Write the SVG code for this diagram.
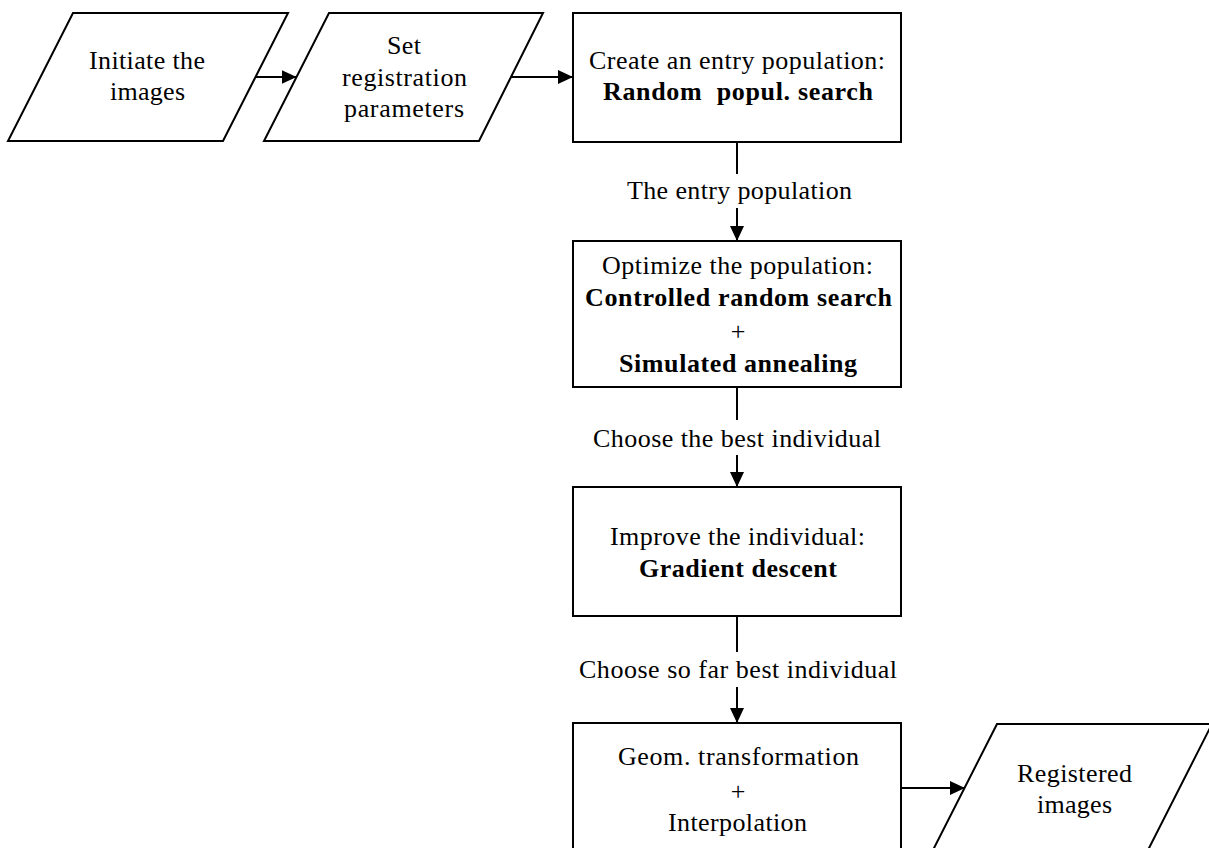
<svg xmlns="http://www.w3.org/2000/svg" width="1209" height="848" viewBox="0 0 1209 848">
  <style>
    .shape { fill: #ffffff; stroke: #000000; stroke-width: 2; }
    .conn { fill: none; stroke: #000000; stroke-width: 2; }
    .t { font-family: 'Liberation Serif', Tinos, 'Times New Roman', Times, serif; font-size: 26px; fill: #000000; text-anchor: middle; }
    .b { font-weight: bold; }
  </style>
  <defs>
    <marker id="arrow" markerUnits="userSpaceOnUse" markerWidth="16" markerHeight="15" refX="15" refY="7" orient="auto">
      <path d="M0,0 L15,7 L0,14 z" fill="#000000"/>
    </marker>
  </defs>
  <rect width="1209" height="848" fill="#ffffff"/>

  <g id="connectors">
    <line class="conn" x1="256" y1="77" x2="296.5" y2="77" marker-end="url(#arrow)"/>
    <line class="conn" x1="511" y1="77" x2="573" y2="77" marker-end="url(#arrow)"/>
    <line class="conn" x1="737" y1="142" x2="737" y2="174"/>
    <line class="conn" x1="737" y1="208" x2="737" y2="241" marker-end="url(#arrow)"/>
    <line class="conn" x1="737" y1="387" x2="737" y2="420"/>
    <line class="conn" x1="737" y1="455" x2="737" y2="487" marker-end="url(#arrow)"/>
    <line class="conn" x1="737" y1="616" x2="737" y2="652"/>
    <line class="conn" x1="737" y1="687" x2="737" y2="723" marker-end="url(#arrow)"/>
    <line class="conn" x1="901" y1="788" x2="965" y2="788" marker-end="url(#arrow)"/>
    <text class="t" font-family="Liberation Serif, serif" x="739.5" y="199" textLength="225">The entry population</text>
    <text class="t" font-family="Liberation Serif, serif" x="737" y="447" textLength="288">Choose the best individual</text>
    <text class="t" font-family="Liberation Serif, serif" x="738" y="678" textLength="318">Choose so far best individual</text>
  </g>

  <g id="initiate" font-family="Liberation Serif, serif">
    <polygon class="shape" points="73,13 288,13 223,141 8,141"/>
    <text class="t" x="147" y="69" textLength="116">Initiate the</text>
    <text class="t" x="147.5" y="100" textLength="75">images</text>
  </g>

  <g id="set-params">
    <polygon class="shape" points="329,13 543,13 479,141 264,141"/>
    <text class="t" x="404" y="54" textLength="34">Set</text>
    <text class="t" x="404.5" y="86" textLength="125">registration</text>
    <text class="t" x="404" y="117" textLength="120">parameters</text>
  </g>

  <g id="create-population">
    <rect class="shape" x="573" y="13" width="328" height="129"/>
    <text class="t" x="737" y="69" textLength="296">Create an entry population:</text>
    <text class="t b" x="738" y="100" textLength="270" xml:space="preserve">Random  popul. search</text>
  </g>

  <g id="optimize-population">
    <rect class="shape" x="573" y="241" width="328" height="146"/>
    <text class="t" x="737.5" y="274" textLength="271">Optimize the population:</text>
    <text class="t b" x="738.5" y="306" textLength="307">Controlled random search</text>
    <text class="t" x="738" y="340">+</text>
    <text class="t b" x="738" y="372" textLength="238">Simulated annealing</text>
  </g>

  <g id="improve-individual">
    <rect class="shape" x="573" y="487" width="328" height="129"/>
    <text class="t" x="737.5" y="545" textLength="255">Improve the individual:</text>
    <text class="t b" x="738" y="577" textLength="198">Gradient descent</text>
  </g>

  <g id="geom-transformation">
    <rect class="shape" x="573" y="723" width="328" height="129"/>
    <text class="t" x="738.5" y="765" textLength="241">Geom. transformation</text>
    <text class="t" x="738" y="800">+</text>
    <text class="t" x="737.5" y="831" textLength="139">Interpolation</text>
  </g>

  <g id="registered-images">
    <polygon class="shape" points="997,724 1212,724 1147,852 932,852"/>
    <text class="t" x="1074.5" y="782" textLength="115">Registered</text>
    <text class="t" x="1074.5" y="813" textLength="75">images</text>
  </g>
</svg>
